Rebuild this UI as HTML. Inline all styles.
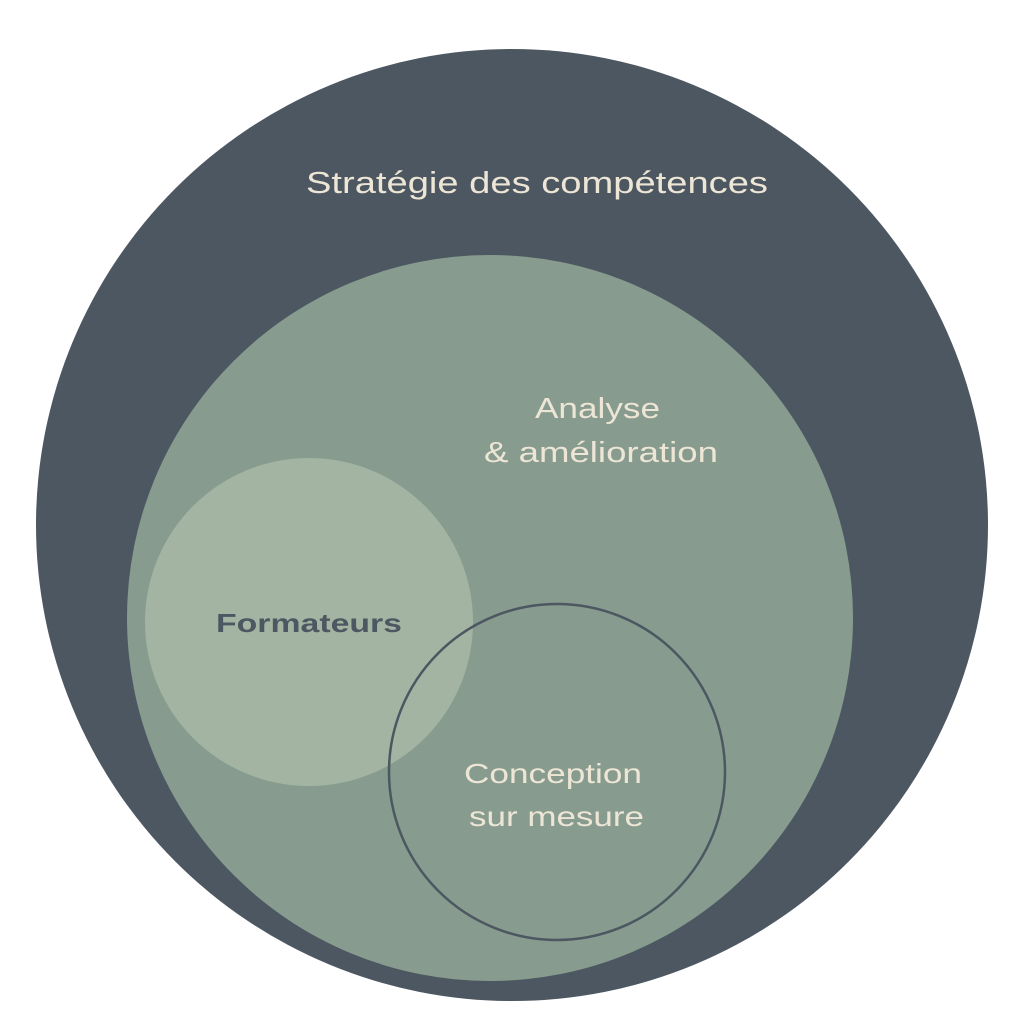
<!DOCTYPE html>
<html><head><meta charset="utf-8"><style>
html,body{margin:0;padding:0;background:#fff;}
svg{display:block;}
text{font-family:"Liberation Sans",sans-serif;}
</style></head><body>
<svg width="1024" height="1024" viewBox="0 0 1024 1024" xmlns="http://www.w3.org/2000/svg">
<circle cx="512" cy="525" r="476" fill="#4d5761"/>
<circle cx="490" cy="618" r="363" fill="#879c8f"/>
<circle cx="309" cy="622" r="164" fill="#a3b5a2"/>
<circle cx="557" cy="772" r="168" fill="none" stroke="#4d5761" stroke-width="2.5"/>
<text x="306" y="193" font-size="31" fill="#ede6d6" textLength="462" lengthAdjust="spacingAndGlyphs">Stratégie des compétences</text>
<text x="535" y="418" font-size="29" fill="#ede6d6" textLength="125" lengthAdjust="spacingAndGlyphs">Analyse</text>
<text x="484" y="462" font-size="29" fill="#ede6d6" textLength="234" lengthAdjust="spacingAndGlyphs">&amp; amélioration</text>
<text x="216" y="632" font-size="26" font-weight="bold" fill="#4d5761" textLength="186" lengthAdjust="spacingAndGlyphs">Formateurs</text>
<text x="464" y="783" font-size="28" fill="#ede6d6" textLength="178" lengthAdjust="spacingAndGlyphs">Conception</text>
<text x="469" y="826" font-size="28" fill="#ede6d6" textLength="175" lengthAdjust="spacingAndGlyphs">sur mesure</text>
</svg>
</body></html>
